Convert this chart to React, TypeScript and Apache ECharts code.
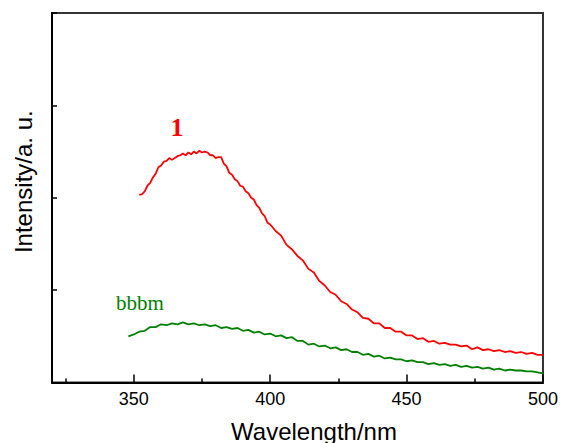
import React, { useEffect, useRef } from "react";
import * as echarts from "echarts";

const xTickLabels = [350, 400, 450, 500];
const xMinorTicks = [325, 375, 425, 475];

const redWavelength = [
  352, 353, 354, 355, 356, 357, 358, 359, 360, 361,
  362, 363, 364, 365, 366, 367, 368, 369, 370, 371,
  372, 373, 374, 375, 376, 377, 378, 379, 380, 381,
  382, 383, 384, 385, 386, 387, 388, 389, 390, 391,
  392, 393, 394, 395, 396, 397, 398, 399, 400,
  402, 404, 406, 408, 410, 412, 414, 416, 418, 420,
  422, 424, 426, 428, 430, 432, 434, 436, 438, 440,
  442, 444, 446, 448, 450, 452, 454, 456, 458, 460,
  462, 464, 466, 468, 470, 472, 474, 476, 478, 480,
  482, 484, 486, 488, 490, 492, 494, 496, 498, 500,
];
const redIntensity = [
  2.03, 2.04, 2.07, 2.13, 2.16, 2.22, 2.26, 2.33, 2.35, 2.39,
  2.4, 2.43, 2.41, 2.43, 2.45, 2.46, 2.48, 2.46, 2.49, 2.47,
  2.5, 2.48, 2.51, 2.49, 2.5, 2.49, 2.46, 2.46, 2.43, 2.44,
  2.44, 2.37, 2.34, 2.27, 2.25, 2.2, 2.18, 2.13, 2.12, 2.07,
  2.05, 2.0, 1.98, 1.92, 1.89, 1.83, 1.8, 1.73, 1.71,
  1.64, 1.59, 1.49, 1.44, 1.37, 1.32, 1.23, 1.19, 1.1, 1.05,
  0.98, 0.95, 0.88, 0.85, 0.79, 0.76, 0.7, 0.69, 0.64, 0.64,
  0.59, 0.59, 0.55, 0.55, 0.51, 0.51, 0.47, 0.48, 0.44, 0.45,
  0.42, 0.43, 0.41, 0.41, 0.39, 0.4, 0.36, 0.38, 0.35, 0.36,
  0.34, 0.35, 0.33, 0.34, 0.32, 0.33, 0.31, 0.32, 0.3, 0.3,
];

const greenWavelength = [
  348, 350, 352, 354, 356, 358, 360, 362, 364, 366,
  368, 370, 372, 374, 376, 378, 380, 382, 384, 386,
  388, 390, 392, 394, 396, 398, 400, 402, 404, 406,
  408, 410, 412, 414, 416, 418, 420, 422, 424, 426,
  428, 430, 432, 434, 436, 438, 440, 442, 444, 446,
  448, 450, 452, 454, 456, 458, 460, 462, 464, 466,
  468, 470, 472, 474, 476, 478, 480, 482, 484, 486,
  488, 490, 492, 494, 496, 498, 500,
];
const greenIntensity = [
  0.5, 0.52, 0.55, 0.56, 0.6, 0.6, 0.63, 0.62, 0.64, 0.63,
  0.65, 0.63, 0.64, 0.62, 0.63, 0.61, 0.62, 0.59, 0.6, 0.58,
  0.59, 0.56, 0.57, 0.54, 0.55, 0.52, 0.53, 0.5, 0.51, 0.48,
  0.49, 0.45, 0.45, 0.41, 0.42, 0.39, 0.4, 0.37, 0.38, 0.35,
  0.36, 0.33, 0.33, 0.3, 0.31, 0.28, 0.29, 0.26, 0.27, 0.25,
  0.25, 0.23, 0.24, 0.22, 0.22, 0.2, 0.21, 0.19, 0.2, 0.18,
  0.19, 0.17, 0.18, 0.16, 0.17, 0.15, 0.16, 0.14, 0.15, 0.13,
  0.14, 0.13, 0.13, 0.12, 0.12, 0.11, 0.1,
];

const zip = (xs: number[], ys: number[]) => xs.map((x, i) => [x, ys[i]]);

const SANS = "'Liberation Sans', Arial, sans-serif";
const SERIF = "'Liberation Serif', 'Times New Roman', serif";

export default function App() {
  const ref = useRef<HTMLDivElement>(null);
  useEffect(() => {
    if (!ref.current) return;
    const chart = echarts.init(ref.current, null, { renderer: "svg" });
    chart.setOption({
      animation: false,
      backgroundColor: "#ffffff",
      grid: {
        left: 52,
        right: 13,
        top: 13,
        bottom: 60.5,
        show: true,
        borderColor: "#333",
        borderWidth: 2,
        containLabel: false,
      },
      xAxis: [
        {
          type: "value",
          min: 320,
          max: 500,
          position: "bottom",
          axisLine: { show: true, lineStyle: { color: "#000", width: 2 } },
          axisTick: {
            show: true,
            inside: true,
            length: 8,
            customValues: xTickLabels,
            lineStyle: { color: "#000", width: 1.5 },
          },
          axisLabel: {
            show: true,
            customValues: xTickLabels,
            margin: 7,
            fontSize: 18,
            fontFamily: SANS,
            color: "#000",
          },
          splitLine: { show: false },
        },
        {
          type: "value",
          min: 320,
          max: 500,
          position: "bottom",
          offset: 0,
          axisLine: { show: false },
          axisTick: {
            show: true,
            inside: true,
            length: 4,
            customValues: xMinorTicks,
            lineStyle: { color: "#000", width: 1.5 },
          },
          axisLabel: { show: false },
          splitLine: { show: false },
        },
      ],
      yAxis: {
        type: "value",
        min: 0,
        max: 4,
        interval: 1,
        axisLine: { show: true, lineStyle: { color: "#000", width: 2 } },
        axisTick: { show: true, inside: true, length: 5, lineStyle: { color: "#000", width: 1.5 } },
        axisLabel: { show: false },
        splitLine: { show: false },
      },
      series: [
        {
          type: "line",
          name: "1",
          data: zip(redWavelength, redIntensity),
          showSymbol: false,
          lineStyle: { color: "#ff0000", width: 1.8 },
          itemStyle: { color: "#ff0000" },
        },
        {
          type: "line",
          name: "bbbm",
          data: zip(greenWavelength, greenIntensity),
          showSymbol: false,
          lineStyle: { color: "#008000", width: 1.8 },
          itemStyle: { color: "#008000" },
        },
      ],
      graphic: [
        {
          type: "text",
          x: 314,
          y: 431.5,
          style: {
            text: "Wavelength/nm",
            font: `24px ${SANS}`,
            fill: "#000",
            align: "center",
            verticalAlign: "middle",
          },
        },
        {
          type: "text",
          x: 23.3,
          y: 181.7,
          rotation: Math.PI / 2,
          style: {
            text: "Intensity/a. u.",
            font: `24px ${SANS}`,
            fill: "#000",
            align: "center",
            verticalAlign: "middle",
          },
        },
        {
          type: "text",
          x: 177,
          y: 127,
          style: {
            text: "1",
            font: `bold 26px ${SERIF}`,
            fill: "#ff0000",
            align: "center",
            verticalAlign: "middle",
          },
        },
        {
          type: "text",
          x: 116,
          y: 303,
          style: {
            text: "bbbm",
            font: `21px ${SERIF}`,
            fill: "#008000",
            align: "left",
            verticalAlign: "middle",
          },
        },
      ],
    });
    return () => chart.dispose();
  }, []);
  return (
    <div
      ref={ref}
      style={{ position: "fixed", left: 0, top: 0, width: 561, height: 443, background: "#fff" }}
    />
  );
}
